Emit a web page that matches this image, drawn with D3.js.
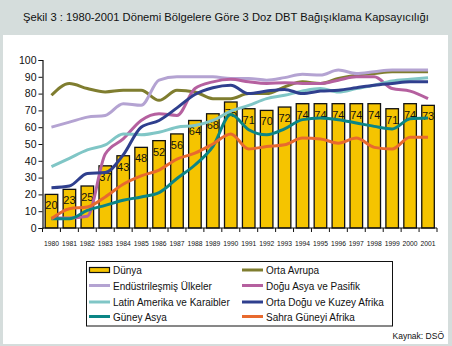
<!DOCTYPE html>
<html>
<head>
<meta charset="utf-8">
<script src="https://cdn.jsdelivr.net/npm/d3@7"></script>
<style>
  body { margin: 0; padding: 0; background: #d5dddc; }
  svg { display: block; font-family: "Liberation Sans", Arial, sans-serif; }
</style>
</head>
<body>
<svg id="chart" width="452" height="346"></svg>
<script>
// Years on the category axis
const years = ["1980","1981","1982","1983","1984","1985","1986","1987","1988","1989","1990",
               "1991","1992","1993","1994","1995","1996","1997","1998","1999","2000","2001"];

// Yıllara göre DBT3 kapsayıcılığı (%)
const dunya = [20,23,25,37,43,48,52,56,64,68,75,71,70,72,74,74,74,74,74,71,74,73];
const ortaAvrupa = [79,86,83,81,82,82,76,82,81,77,77,80,80,84,87,86,89,91,92,93,93,93];
const endustrilesmis = [60,63,66,67,74,73,88,90,90,90,89,89,88,89.5,91.5,91,94,92,93,94,94,94];
const doguAsya = [6,6,7,44,53,64,68,67,83,87,88.5,87,86,86.5,86,86,88,90,90,83,81.5,77];
const latinAmerika = [36.5,41.5,46.5,49.5,56,55.5,57,60,61,64,69.5,73,77,79,81.5,83,81,83,85,87.5,88.5,89.5];
const ortaDogu = [24,25,32.5,33,43.5,60,64,71.5,79.5,83.5,85,80,81.5,82.5,80,81.5,82,83.5,85,86,87,87];
const guneyAsya = [5.5,5.5,10.5,13.5,16.5,18.5,21,29.5,37.5,48.5,67.5,58.5,55.5,59,64.5,65.5,64.5,62.5,60.5,59,65,65.5];
const sahraGuneyi = [5.5,11.5,12.5,18.5,26,31,34.5,41,44.5,50,56,47,48.5,49.5,53.5,53,50.5,53.5,48,47,54,54];

const yTicks = [0,10,20,30,40,50,60,70,80,90,100];

const lineSeries = [
  { name: "Orta Avrupa", values: ortaAvrupa, color: "#7f7d2f" },
  { name: "Endüstrileşmiş Ülkeler", values: endustrilesmis, color: "#b4a3d2" },
  { name: "Doğu Asya ve Pasifik", values: doguAsya, color: "#b5609f" },
  { name: "Latin Amerika ve Karaibler", values: latinAmerika, color: "#80c6c6" },
  { name: "Orta Doğu ve Kuzey Afrika", values: ortaDogu, color: "#2f3f8e" },
  { name: "Güney Asya", values: guneyAsya, color: "#0b8585" },
  { name: "Sahra Güneyi Afrika", values: sahraGuneyi, color: "#e86a2e" }
];

const svg = d3.select("#chart");
const W = 452, H = 346;

// frame: grey title band and white panel
svg.append("rect").attr("width", W).attr("height", H).attr("fill", "#d5dddc");
svg.append("rect").attr("x", 3).attr("y", 35).attr("width", 445).attr("height", 309).attr("fill", "#ffffff");

svg.append("text")
  .attr("x", 226).attr("y", 21)
  .attr("text-anchor", "middle")
  .attr("font-size", 11.2)
  .attr("fill", "#111")
  .text("Şekil 3 : 1980-2001 Dönemi Bölgelere Göre 3 Doz DBT Bağışıklama Kapsayıcılığı");

const margin = { left: 42.5, right: 437, top: 60, bottom: 228 };

const x = d3.scaleBand().domain(years).range([margin.left, margin.right]).paddingInner(0.3).paddingOuter(0.15);
const y = d3.scaleLinear().domain([0, 100]).range([margin.bottom, margin.top]);

// bars
const g = svg.append("g");
g.selectAll("rect.bar")
  .data(dunya)
  .join("rect")
  .attr("class", "bar")
  .attr("x", (d, i) => x(years[i]))
  .attr("y", d => y(d))
  .attr("width", x.bandwidth())
  .attr("height", d => y(0) - y(d))
  .attr("fill", "#f5c400")
  .attr("stroke", "#111")
  .attr("stroke-width", 1.3);

// bar value labels
g.selectAll("text.val")
  .data(dunya)
  .join("text")
  .attr("class", "val")
  .attr("x", (d, i) => x(years[i]) + x.bandwidth() / 2)
  .attr("y", d => y(d) + 15)
  .attr("text-anchor", "middle")
  .attr("font-size", 11)
  .attr("fill", "#111")
  .text(d => d);

// lines
const line = d3.line()
  .x((d, i) => x(years[i]) + x.bandwidth() / 2)
  .y(d => y(d))
  .curve(d3.curveMonotoneX);

lineSeries.forEach(s => {
  g.append("path")
    .datum(s.values)
    .attr("fill", "none")
    .attr("stroke", s.color)
    .attr("stroke-width", 3)
    .attr("stroke-linejoin", "round")
    .attr("d", line);
});

// y axis
const yAxis = d3.axisLeft(y).tickValues(yTicks).tickSize(4).tickFormat(d3.format("d"));
const ya = svg.append("g").attr("transform", `translate(${margin.left},0)`).call(yAxis);
ya.select(".domain").attr("stroke", "#111").attr("stroke-width", 1.2);
ya.selectAll(".tick line").attr("stroke", "#111");
ya.selectAll(".tick text").attr("font-size", 10.5).attr("fill", "#111")
  .attr("font-family", "Liberation Sans, Arial, sans-serif").attr("x", -6);

// x axis with ticks between categories
const xa = svg.append("g").attr("transform", `translate(0,${margin.bottom})`);
xa.append("line").attr("x1", margin.left).attr("x2", margin.right)
  .attr("stroke", "#111").attr("stroke-width", 1.2);
const bounds = d3.range(years.length + 1).map(i => margin.left + i * (margin.right - margin.left) / years.length);
xa.selectAll("line.tk").data(bounds).join("line")
  .attr("class", "tk")
  .attr("x1", d => d).attr("x2", d => d)
  .attr("y1", 0).attr("y2", 4)
  .attr("stroke", "#111");
xa.selectAll("text").data(years).join("text")
  .attr("x", d => x(d) + x.bandwidth() / 2)
  .attr("y", 18)
  .attr("text-anchor", "middle")
  .attr("font-size", 8)
  .attr("textLength", 15)
  .attr("lengthAdjust", "spacingAndGlyphs")
  .attr("fill", "#111")
  .text(d => d);

// legend
const lg = svg.append("g");
lg.append("rect").attr("x", 86.5).attr("y", 261.5).attr("width", 306).attr("height", 64.5)
  .attr("fill", "#fff").attr("stroke", "#111").attr("stroke-width", 1);

const legendItems = [
  { name: "Dünya", bar: true, col: 0, row: 0 },
  { name: lineSeries[0].name, color: lineSeries[0].color, col: 1, row: 0 },
  { name: lineSeries[1].name, color: lineSeries[1].color, col: 0, row: 1 },
  { name: lineSeries[2].name, color: lineSeries[2].color, col: 1, row: 1 },
  { name: lineSeries[3].name, color: lineSeries[3].color, col: 0, row: 2 },
  { name: lineSeries[4].name, color: lineSeries[4].color, col: 1, row: 2 },
  { name: lineSeries[5].name, color: lineSeries[5].color, col: 0, row: 3 },
  { name: lineSeries[6].name, color: lineSeries[6].color, col: 1, row: 3 }
];
const rowY = [270, 285.5, 302, 316.5];
const colX = [89, 242];

legendItems.forEach(it => {
  const lx = colX[it.col], ly = rowY[it.row];
  if (it.bar) {
    lg.append("rect").attr("x", lx + 0.5).attr("y", ly - 2.5).attr("width", 20).attr("height", 5)
      .attr("fill", "#f5c400").attr("stroke", "#111").attr("stroke-width", 1.2);
  } else {
    lg.append("line").attr("x1", lx).attr("x2", lx + 21).attr("y1", ly).attr("y2", ly)
      .attr("stroke", it.color).attr("stroke-width", 3);
  }
  lg.append("text").attr("x", lx + 24).attr("y", ly + 4)
    .attr("font-size", 10).attr("fill", "#111")
    .text(it.name);
});

svg.append("text").attr("x", 444).attr("y", 339)
  .attr("text-anchor", "end").attr("font-size", 8.5).attr("fill", "#111")
  .text("Kaynak: DSÖ");
</script>
</body>
</html>
